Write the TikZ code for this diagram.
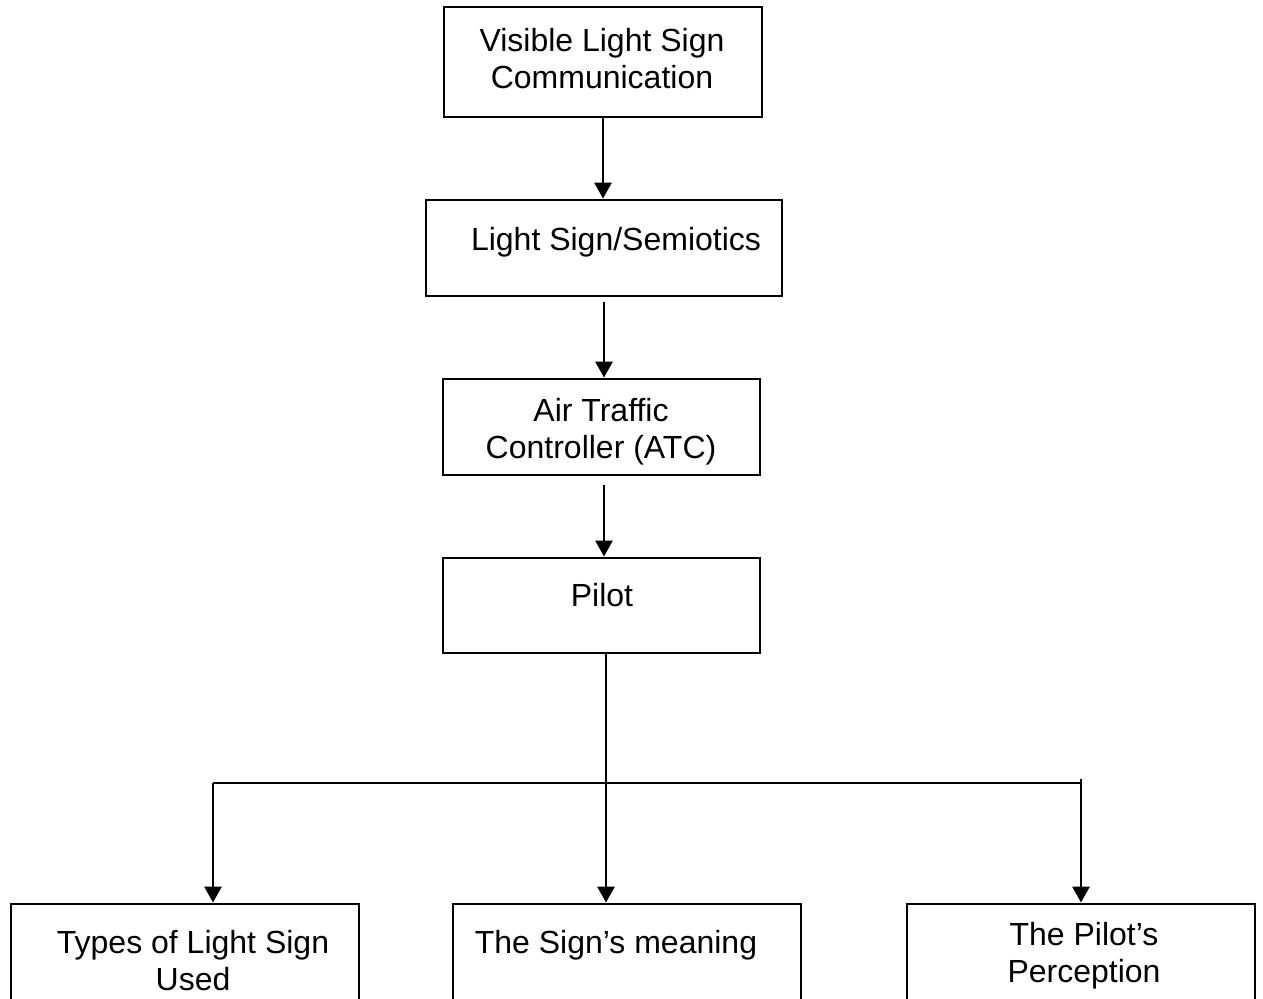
\documentclass[tikz,border=0pt]{standalone}
\usepackage{fontspec}
\setmainfont{Liberation Sans}
\usetikzlibrary{arrows.meta,calc}
\begin{document}
\begin{tikzpicture}[x=0.5pt,y=-0.5pt,
  box/.style={draw, line width=1.45pt, rectangle, inner sep=0pt},
  lbl/.style={inner sep=0pt, align=center, font=\fontsize{16}{18.6}\selectfont},
  arr/.style={line width=1.45pt, -{Triangle[width=8.5pt,length=8pt]}},
  ln/.style={line width=1.45pt}]
\path[use as bounding box, clip] (0,0) rectangle (1263,998);
% boxes
\node[box, minimum width=159pt, minimum height=55pt] (b1) at (603,62) {};
\node[box, minimum width=178pt, minimum height=48pt] (b2) at (604,248) {};
\node[box, minimum width=158.5pt, minimum height=48pt] (b3) at (601.5,427) {};
\node[box, minimum width=158.5pt, minimum height=47.5pt] (b4) at (601.5,605.5) {};
\node[box, minimum width=174pt, minimum height=53pt] (b5) at (185,957) {};
\node[box, minimum width=174pt, minimum height=53pt] (b6) at (627,957) {};
\node[box, minimum width=174pt, minimum height=53pt] (b7) at (1081,957) {};
% texts
\node[lbl, anchor=north] (t1) at (602,28) {Visible Light Sign\\Communication};
\node[lbl, anchor=base] (t2) at (616,250) {Light Sign/Semiotics};
\node[lbl, anchor=north] (t3) at (601,398) {Air Traffic\\Controller (ATC)};
\node[lbl, anchor=base] (t4) at (602,606) {Pilot};
\node[lbl, anchor=north] (t5) at (193,930) {Types of Light Sign\\Used};
\node[lbl, anchor=base] (t6) at (616,953) {The Sign’s meaning};
\node[lbl, anchor=north] (t7) at (1084,922) {The Pilot’s\\Perception};
% connectors
\draw[arr] (b1.south) -- (b1.south |- b2.north);
\coordinate (c2) at (604,302);
\draw[arr] (c2) -- (c2 |- b3.north);
\coordinate (c3) at (604,485);
\draw[arr] (c3) -- (c3 |- b4.north);
\coordinate (bus) at (606,783);
\coordinate (busL) at (213,783);
\coordinate (busR) at (1081,783);
\coordinate (busRt) at (1081,779);
\draw[ln] (bus |- b4.south) -- (bus);
\draw[ln] (busL) -- (busR);
\draw[arr] (busL) -- (busL |- b5.north);
\draw[arr] (bus) -- (bus |- b6.north);
\draw[arr] (busRt) -- (busRt |- b7.north);
\end{tikzpicture}
\end{document}
